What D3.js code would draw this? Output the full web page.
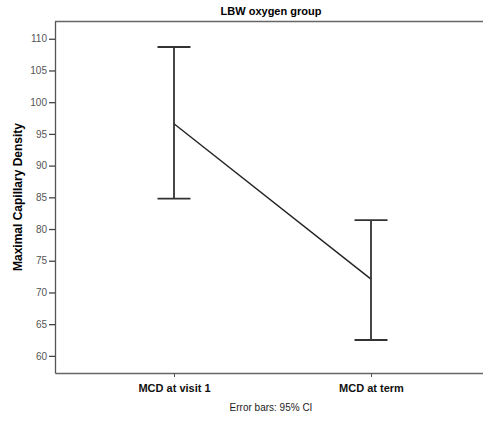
<!DOCTYPE html>
<html>
<head>
<meta charset="utf-8">
<script src="https://cdn.jsdelivr.net/npm/d3@7"></script>
<style>
  body { margin: 0; background: #fff; }
  text { font-family: "Liberation Sans", Arial, sans-serif; }
</style>
</head>
<body>
<svg id="chart"></svg>
<script>
// data
let groups = ["MCD at visit 1", "MCD at term"];
let means = [96.6, 72.1];
let lower = [84.8, 62.5];
let upper = [108.7, 81.4];
let yTicks = [60, 65, 70, 75, 80, 85, 90, 95, 100, 105, 110];

let width = 483, height = 421;
let margin = {top: 21, right: 0, bottom: 48, left: 55};
let innerW = width - margin.left - margin.right,
    innerH = height - margin.top - margin.bottom;

let svg = d3.select("#chart")
    .attr("width", width)
    .attr("height", height);

let g = svg.append("g")
    .attr("transform", "translate(" + margin.left + "," + margin.top + ")");

let x = d3.scalePoint()
  .domain(groups)
  .range([0, 435])
  .padding(0.604);

let y = d3.scaleLinear()
  .domain([57.3, 112.8])
  .range([innerH, 0]);

// frame: top line + axes
g.append("line")
  .attr("x1", 0).attr("x2", innerW)
  .attr("y1", 0.5).attr("y2", 0.5)
  .attr("stroke", "#666").attr("stroke-width", 1.3);

let yAxis = g.append("g")
  .call(d3.axisLeft(y).tickValues(yTicks).tickSize(6).tickPadding(2).tickSizeOuter(0));
yAxis.select(".domain").attr("stroke", "#555").attr("stroke-width", 1.3);
yAxis.selectAll(".tick line").attr("stroke", "#444").attr("stroke-width", 1.3);
yAxis.selectAll(".tick text").attr("fill", "#555").style("font-size", "10px");

let xAxis = g.append("g")
  .attr("transform", "translate(0," + innerH + ")")
  .call(d3.axisBottom(x).tickSize(4).tickPadding(7).tickSizeOuter(0));
xAxis.select(".domain").attr("stroke", "#666").attr("stroke-width", 1.3);
xAxis.selectAll(".tick line").attr("stroke", "#555");
xAxis.selectAll(".tick text").attr("fill", "#111")
  .style("font-size", "11px").style("font-weight", "bold");

// mean line
g.append("path")
  .datum(groups)
  .attr("fill", "none")
  .attr("stroke", "#222")
  .attr("stroke-width", 1.4)
  .attr("d", d3.line().x(d => x(d)).y((d, i) => y(means[i])));

// error bars
let capW = 16.5;
let bars = g.selectAll(".ebar")
  .data(groups)
.enter().append("g")
  .attr("class", "ebar")
  .attr("stroke", "#333")
  .attr("stroke-width", 1.8);

bars.append("line")
  .attr("x1", d => x(d)).attr("x2", d => x(d))
  .attr("y1", (d, i) => y(lower[i])).attr("y2", (d, i) => y(upper[i]));
bars.append("line")
  .attr("x1", d => x(d) - capW).attr("x2", d => x(d) + capW)
  .attr("y1", (d, i) => y(upper[i])).attr("y2", (d, i) => y(upper[i]));
bars.append("line")
  .attr("x1", d => x(d) - capW).attr("x2", d => x(d) + capW)
  .attr("y1", (d, i) => y(lower[i])).attr("y2", (d, i) => y(lower[i]));

// titles
svg.append("text")
  .attr("x", 271).attr("y", 15)
  .attr("text-anchor", "middle")
  .style("font-size", "11px").style("font-weight", "bold")
  .text("LBW oxygen group");

svg.append("text")
  .attr("transform", "translate(22," + (margin.top + innerH / 2) + ") rotate(-90)")
  .attr("text-anchor", "middle")
  .style("font-size", "12px").style("font-weight", "bold")
  .text("Maximal Capillary Density");

svg.append("text")
  .attr("x", 271).attr("y", 411)
  .attr("text-anchor", "middle")
  .attr("fill", "#222")
  .style("font-size", "10px")
  .text("Error bars: 95% CI");
</script>
</body>
</html>
